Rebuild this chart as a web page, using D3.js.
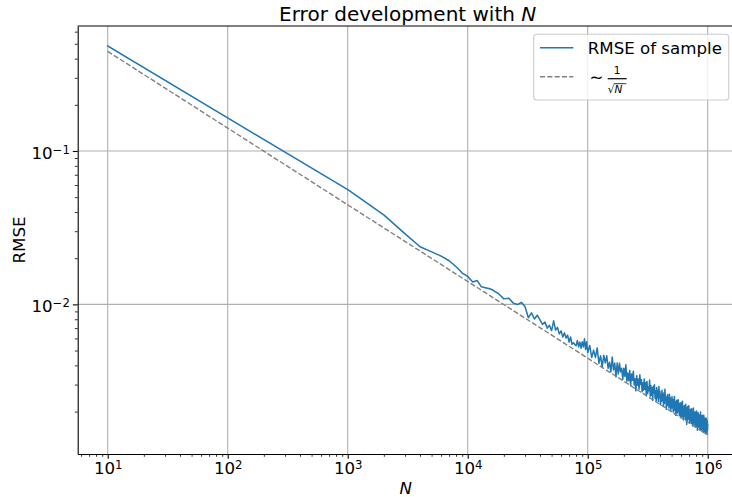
<!DOCTYPE html>
<html>
<head>
<meta charset="utf-8">
<script src="https://cdn.jsdelivr.net/npm/d3@7"></script>
<style>
  html, body { margin: 0; padding: 0; background: #fff; }
  svg { display: block; font-family: "DejaVu Sans", sans-serif; }
</style>
</head>
<body>
<svg id="chart" width="732" height="497"></svg>
<script>
// ---- data -------------------------------------------------------------
// Sample sizes N (three resolutions) and the RMSE measured at each N.
const nCoarse = d3.range(10, 20011, 1000);
const rmseCoarse = [
  0.484, 0.0557, 0.0382, 0.0288, 0.02375, 0.0220, 0.02065, 0.01925, 0.0176, 0.0160,
  0.0152, 0.01398, 0.0143, 0.01301, 0.01285, 0.0127, 0.01247, 0.01205, 0.01178, 0.01129,
  0.01086
];

const nMid = d3.range(22010, 100011, 2000);
const rmseMid = [
  0.01097, 0.01019, 0.00997, 0.01032, 0.00969, 0.00818, 0.00881, 0.00803, 0.00850,
  0.00792, 0.00740, 0.00766, 0.00700, 0.00730, 0.00674, 0.00781, 0.00681, 0.00708, 0.00641,
  0.00672, 0.00612, 0.00652, 0.00603, 0.00631, 0.00567, 0.00613, 0.00549, 0.00562, 0.00548,
  0.00537, 0.00581, 0.00528, 0.00568, 0.00518, 0.00570, 0.00528, 0.00596, 0.00508, 0.00570,
  0.00486
];

const nFine = [...d3.range(104010, 996011, 4000), 999010];
const rmseFine = [
  0.00539, 0.00450, 0.00502, 0.00451, 0.00519, 0.00413, 0.00463, 0.00390, 0.00466, 0.00415,
  0.00463, 0.00383, 0.00420, 0.00363, 0.00454, 0.00374, 0.00414, 0.00336, 0.00414, 0.00352,
  0.00414, 0.00363, 0.00383, 0.00324, 0.00384, 0.00339, 0.00404, 0.00315, 0.00357, 0.00318,
  0.00371, 0.00296, 0.00352, 0.00320, 0.00367, 0.00298, 0.00328, 0.00273, 0.00343, 0.00297,
  0.00326, 0.00280, 0.00348, 0.00300, 0.00324, 0.00269, 0.00308, 0.00276, 0.00326, 0.00280,
  0.00308, 0.00254, 0.00314, 0.00262, 0.00289, 0.00273, 0.00321, 0.00252, 0.00296, 0.00256,
  0.00286, 0.00236, 0.00293, 0.00264, 0.00299, 0.00244, 0.00273, 0.00234, 0.00287, 0.00246,
  0.00273, 0.00233, 0.00291, 0.00247, 0.00271, 0.00222, 0.00256, 0.00233, 0.00275, 0.00236,
  0.00258, 0.00219, 0.00265, 0.00226, 0.00280, 0.00236, 0.00253, 0.00207, 0.00245, 0.00218,
  0.00258, 0.00221, 0.00238, 0.00211, 0.00259, 0.00223, 0.00246, 0.00202, 0.00238, 0.00211,
  0.00251, 0.00216, 0.00232, 0.00199, 0.00241, 0.00204, 0.00251, 0.00216, 0.00229, 0.00189,
  0.00233, 0.00204, 0.00237, 0.00195, 0.00219, 0.00199, 0.00239, 0.00205, 0.00224, 0.00188,
  0.00227, 0.00192, 0.00216, 0.00183, 0.00229, 0.00197, 0.00215, 0.00185, 0.00234, 0.00192,
  0.00217, 0.00176, 0.00206, 0.00187, 0.00219, 0.00194, 0.00211, 0.00177, 0.00223, 0.00181,
  0.00203, 0.00165, 0.00212, 0.00187, 0.00216, 0.00176, 0.00202, 0.00180, 0.00218, 0.00186,
  0.00205, 0.00168, 0.00196, 0.00174, 0.00207, 0.00177, 0.00198, 0.00167, 0.00209, 0.00183,
  0.00194, 0.00161, 0.00201, 0.00172, 0.00211, 0.00175, 0.00187, 0.00165, 0.00199, 0.00167,
  0.00191, 0.00159, 0.00199, 0.00174, 0.00188, 0.00160, 0.00202, 0.00168, 0.00183, 0.00151,
  0.00189, 0.00164, 0.00197, 0.00168, 0.00183, 0.00158, 0.00191, 0.00160, 0.00177, 0.00152,
  0.00187, 0.00167, 0.00199, 0.00159, 0.00181, 0.00153, 0.00188, 0.00161, 0.00175, 0.00153,
  0.00189, 0.00161, 0.00176, 0.00146, 0.00181, 0.00155, 0.00189, 0.00163, 0.00171, 0.00148,
  0.00181, 0.00151, 0.00176, 0.00144, 0.00181, 0.00156, 0.00171, 0.00147, 0.00181, 0.00150,
  0.00171, 0.00144, 0.00174, 0.00152, 0.00164
];

// Reference curve ~ 1/sqrt(N)
const refN = [1e1, 1e2, 1e3, 1e4, 1e5, 1e6];
const refRmse = [0.4459, 0.1410, 0.04459, 0.01410, 0.004459, 0.001410];

// Axis decades and their labels (exponents of ten)
const xTickExponents = [1, 2, 3, 4, 5, 6];
const yTickExponents = [-2, -1];

const titleText = "Error development with ";
const seriesLabel = "RMSE of sample";

// ---- layout -----------------------------------------------------------
const plot = { left: 77.7, right: 737.7, top: 26, bottom: 454 };
const baseFont = 16.67;
const blue = "#1f77b4";
const grey = "#808080";
const lineWidth = 1.5;
const dashWidth = 1.4;
const dashPattern = "5.1,2.2";

const svg = d3.select("#chart");

const x = d3.scaleLog().domain([10 ** 0.75, 10 ** 6.25]).range([plot.left, plot.right]);
const y = d3.scaleLog().domain([10 ** -2.9755, 10 ** -0.1851]).range([plot.bottom, plot.top]);

const xMajor = xTickExponents.map(e => 10 ** e);
const yMajor = yTickExponents.map(e => 10 ** e);
const isDecade = v => Math.abs(Math.log10(v) - Math.round(Math.log10(v))) < 1e-9;
const xMinor = x.ticks().filter(v => !isDecade(v));
const yMinor = y.ticks().filter(v => !isDecade(v));

// ---- grid -------------------------------------------------------------
const grid = svg.append("g").attr("stroke", "#b0b0b0").attr("stroke-width", 1.1);
grid.selectAll("line.gx").data(xMajor).join("line")
  .attr("x1", d => x(d)).attr("x2", d => x(d))
  .attr("y1", plot.top).attr("y2", plot.bottom);
grid.selectAll("line.gy").data(yMajor).join("line")
  .attr("x1", plot.left).attr("x2", plot.right)
  .attr("y1", d => y(d)).attr("y2", d => y(d));

// ---- series -----------------------------------------------------------
svg.append("clipPath").attr("id", "plot-clip")
  .append("rect")
  .attr("x", plot.left).attr("y", plot.top)
  .attr("width", plot.right - plot.left).attr("height", plot.bottom - plot.top);

const line = d3.line().x(d => x(d[0])).y(d => y(d[1]));

const samplePoints = [
  ...nCoarse.map((n, i) => [n, rmseCoarse[i]]),
  ...nMid.map((n, i) => [n, rmseMid[i]]),
  ...nFine.map((n, i) => [n, rmseFine[i]])
];
const refPoints = refN.map((n, i) => [n, refRmse[i]]);

const series = svg.append("g").attr("clip-path", "url(#plot-clip)");
series.append("path")
  .attr("d", line(samplePoints))
  .attr("fill", "none")
  .attr("stroke", blue)
  .attr("stroke-width", lineWidth)
  .attr("stroke-linejoin", "round")
  .attr("stroke-linecap", "square");
series.append("path")
  .attr("d", line(refPoints))
  .attr("fill", "none")
  .attr("stroke", grey)
  .attr("stroke-width", dashWidth)
  .attr("stroke-dasharray", dashPattern);

// ---- axes -------------------------------------------------------------
const supText = e => (e < 0 ? "\u2212" + Math.abs(e) : String(e));

function styleLabels(sel) {
  sel.selectAll(".tick text").each(function (d) {
    const t = d3.select(this);
    t.text(null);
    t.append("tspan").text("10");
    t.append("tspan")
      .attr("dy", "-0.45em")
      .attr("font-size", 11.7)
      .text(supText(Math.round(Math.log10(d))));
  });
}

const gx = svg.append("g")
  .attr("transform", `translate(0,${plot.bottom})`)
  .call(d3.axisBottom(x).tickValues(xMajor).tickSize(4.86).tickPadding(3.4)
    .tickSizeOuter(0).tickFormat(() => ""));
const gxMinor = svg.append("g")
  .attr("transform", `translate(0,${plot.bottom})`)
  .call(d3.axisBottom(x).tickValues(xMinor).tickSize(2.78).tickSizeOuter(0).tickFormat(() => ""));

const gy = svg.append("g")
  .attr("transform", `translate(${plot.left},0)`)
  .call(d3.axisLeft(y).tickValues(yMajor).tickSize(4.86).tickPadding(3)
    .tickSizeOuter(0).tickFormat(() => ""));
const gyMinor = svg.append("g")
  .attr("transform", `translate(${plot.left},0)`)
  .call(d3.axisLeft(y).tickValues(yMinor).tickSize(2.78).tickSizeOuter(0).tickFormat(() => ""));

[gx, gy].forEach(g => {
  g.attr("font-size", baseFont).attr("font-family", "DejaVu Sans, sans-serif");
  g.selectAll(".tick line").attr("stroke", "#000").attr("stroke-width", 1.1);
  g.select(".domain").attr("stroke", "#000").attr("stroke-width", 1.1);
  g.selectAll(".tick text").attr("fill", "#000");
});
gy.selectAll(".tick text").attr("dy", "0.45em");
[gxMinor, gyMinor].forEach(g => {
  g.select(".domain").remove();
  g.selectAll(".tick line").attr("stroke", "#000").attr("stroke-width", 0.83);
  g.selectAll(".tick text").remove();
});
styleLabels(gx);
styleLabels(gy);

// top spine
svg.append("line")
  .attr("x1", plot.left).attr("x2", plot.right)
  .attr("y1", plot.top).attr("y2", plot.top)
  .attr("stroke", "#000").attr("stroke-width", 1.1);

// ---- labels -----------------------------------------------------------
const cx = (plot.left + plot.right) / 2;
const title = svg.append("text")
  .attr("x", cx).attr("y", 20.5)
  .attr("text-anchor", "middle")
  .attr("font-size", 20);
title.append("tspan").text(titleText);
title.append("tspan").attr("font-style", "italic").text("N");

svg.append("text")
  .attr("x", cx - 2).attr("y", 494.3)
  .attr("text-anchor", "middle")
  .attr("font-size", baseFont)
  .attr("font-style", "italic")
  .text("N");

svg.append("text")
  .attr("transform", `translate(24.5,${(plot.top + plot.bottom) / 2}) rotate(-90)`)
  .attr("text-anchor", "middle")
  .attr("font-size", baseFont)
  .text("RMSE");

// ---- legend -----------------------------------------------------------
const legend = svg.append("g");
legend.append("rect")
  .attr("x", 533.7).attr("y", 34.3)
  .attr("width", 195).attr("height", 65.7)
  .attr("rx", 3.3)
  .attr("fill", "#fff").attr("fill-opacity", 0.8)
  .attr("stroke", "#cccccc").attr("stroke-width", 1.1);

legend.append("line")
  .attr("x1", 540).attr("x2", 573.3).attr("y1", 47.7).attr("y2", 47.7)
  .attr("stroke", blue).attr("stroke-width", lineWidth);
legend.append("text")
  .attr("x", 587.7).attr("y", 54)
  .attr("font-size", baseFont)
  .text(seriesLabel);

legend.append("line")
  .attr("x1", 540).attr("x2", 573.3).attr("y1", 76.7).attr("y2", 76.7)
  .attr("stroke", grey).attr("stroke-width", dashWidth)
  .attr("stroke-dasharray", dashPattern);

// "~ 1/sqrt(N)" label
legend.append("text")
  .attr("x", 589.5).attr("y", 82.5)
  .attr("font-size", baseFont)
  .text("\u223C");
legend.append("text")
  .attr("x", 617.2).attr("y", 74.3)
  .attr("text-anchor", "middle")
  .attr("font-size", 10.5)
  .text("1");
legend.append("line")
  .attr("x1", 607.7).attr("x2", 626.7).attr("y1", 78.7).attr("y2", 78.7)
  .attr("stroke", "#000").attr("stroke-width", 1.2);
legend.append("text")
  .attr("x", 607.8).attr("y", 92.5)
  .attr("font-size", 10.5)
  .text("\u221A");
legend.append("line")
  .attr("x1", 613.8).attr("x2", 626.3).attr("y1", 83.7).attr("y2", 83.7)
  .attr("stroke", "#000").attr("stroke-width", 0.8);
legend.append("text")
  .attr("x", 614.5).attr("y", 92.5)
  .attr("font-size", 10.5)
  .attr("font-style", "italic")
  .text("N");
</script>
</body>
</html>
